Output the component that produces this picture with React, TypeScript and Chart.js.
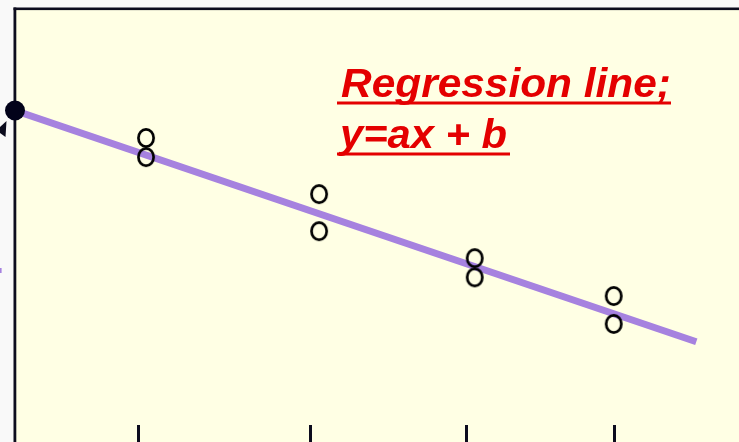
import { useEffect, useRef } from "react";
import { Chart, registerables } from "chart.js";

Chart.register(...registerables);

// Intercept point (x = 0) of the fitted line
const interceptX = [0];
const interceptY = [7.56];

// Observed samples: two readings at each of four x levels
const observedX = [1.81, 1.81, 4.2, 4.2, 6.35, 6.35, 8.27, 8.27];
const observedY = [6.9, 6.44, 5.55, 4.66, 4.01, 3.55, 3.1, 2.43];

// Fitted regression line end points
const fitX = [0, 9.41];
const fitY = [7.56, 2.0];

// Tick marks along the bottom edge
const tickValues = [1.71, 4.08, 6.24, 8.28];

// Caption
const captionLines = ["Regression line;", "y=ax + b"];

const PANEL = "#FFFFE4";
const PAGE = "#F9F9F9";
const INK = "#0c0c1e";
const LINE = "#A682DF";
const RED = "#E40000";

function makeRing(): HTMLCanvasElement {
  const c = document.createElement("canvas");
  c.width = 22;
  c.height = 24;
  const g = c.getContext("2d")!;
  g.strokeStyle = "#000";
  g.lineWidth = 2.7;
  g.beginPath();
  g.ellipse(11, 12, 7.6, 8.6, 0, 0, Math.PI * 2);
  g.stroke();
  return c;
}

const panelPlugin = {
  id: "panel",
  beforeDraw(chart: any) {
    const { ctx, chartArea, width, height } = chart;
    const l = chartArea.left;
    const t = chartArea.top;
    ctx.save();
    ctx.fillStyle = PAGE;
    ctx.fillRect(0, 0, width, height);
    ctx.fillStyle = PANEL;
    ctx.fillRect(l, t, width - l, height - t);
    // frame: left and top edges
    ctx.fillStyle = INK;
    ctx.fillRect(l - 1.5, t - 1.5, 2.8, height - t + 2);
    ctx.fillRect(l - 1.5, t - 1.5, width - l + 2, 2.6);
    // clipped arrow tip pointing at the intercept
    ctx.beginPath();
    ctx.moveTo(0, 127);
    ctx.lineTo(6.5, 121);
    ctx.lineTo(5.5, 137);
    ctx.lineTo(0, 133);
    ctx.closePath();
    ctx.fill();
    // clipped label fragment
    ctx.fillStyle = LINE;
    ctx.fillRect(0, 268, 1.6, 5);
    ctx.restore();
  },
  afterDraw(chart: any) {
    const { ctx } = chart;
    ctx.save();
    ctx.fillStyle = RED;
    ctx.font = "italic bold 40px 'Liberation Sans', Arial, sans-serif";
    ctx.textBaseline = "alphabetic";
    const rows = [
      { text: captionLines[0], x: 341, base: 97, width: 330, ul: 101.5, ulW: 334 },
      { text: captionLines[1], x: 340, base: 148, width: 167, ul: 152.5, ulW: 173 },
    ];
    for (const r of rows) {
      const m = ctx.measureText(r.text).width;
      ctx.save();
      ctx.translate(r.x, r.base);
      ctx.scale(r.width / m, 1);
      ctx.fillText(r.text, 0, 0);
      ctx.restore();
      ctx.fillRect(337, r.ul, r.ulW, 3);
    }
    ctx.restore();
  },
};

export default function App() {
  const ref = useRef<HTMLCanvasElement | null>(null);

  useEffect(() => {
    if (!ref.current) return;
    const ring = makeRing();
    const chart = new Chart(ref.current, {
      type: "scatter",
      data: {
        datasets: [
          {
            label: "intercept",
            data: interceptX.map((x, i) => ({ x, y: interceptY[i] })),
            pointRadius: 10,
            pointBackgroundColor: "#02021a",
            pointBorderWidth: 0,
            clip: false as any,
          },
          {
            label: "observed",
            data: observedX.map((x, i) => ({ x, y: observedY[i] })),
            pointStyle: ring as any,
            pointRadius: 9,
          },
          {
            type: "line" as any,
            label: "fit",
            data: fitX.map((x, i) => ({ x, y: fitY[i] })),
            borderColor: LINE,
            borderWidth: 7,
            pointRadius: 0,
            showLine: true,
            fill: false,
          },
        ],
      },
      options: {
        animation: false,
        responsive: false,
        maintainAspectRatio: false,
        events: [],
        layout: { autoPadding: false, padding: { left: 15, top: 9, right: 0, bottom: 0 } },
        plugins: { legend: { display: false }, tooltip: { enabled: false } },
        scales: {
          x: {
            type: "linear",
            min: 0,
            max: 10,
            afterBuildTicks: (s: any) => {
              s.ticks = tickValues.map((v) => ({ value: v }));
            },
            ticks: { display: false },
            grid: {
              display: true,
              drawOnChartArea: false,
              drawTicks: true,
              tickLength: 17,
              color: INK,
              lineWidth: 3,
            },
            border: { display: false },
          },
          y: { type: "linear", min: 0, max: 10, display: false },
        },
      },
      plugins: [panelPlugin],
    });
    return () => chart.destroy();
  }, []);

  return (
    <div style={{ position: "fixed", left: 0, top: 0, width: 739, height: 442 }}>
      <canvas ref={ref} width={739} height={442} style={{ width: 739, height: 442, display: "block" }} />
    </div>
  );
}
